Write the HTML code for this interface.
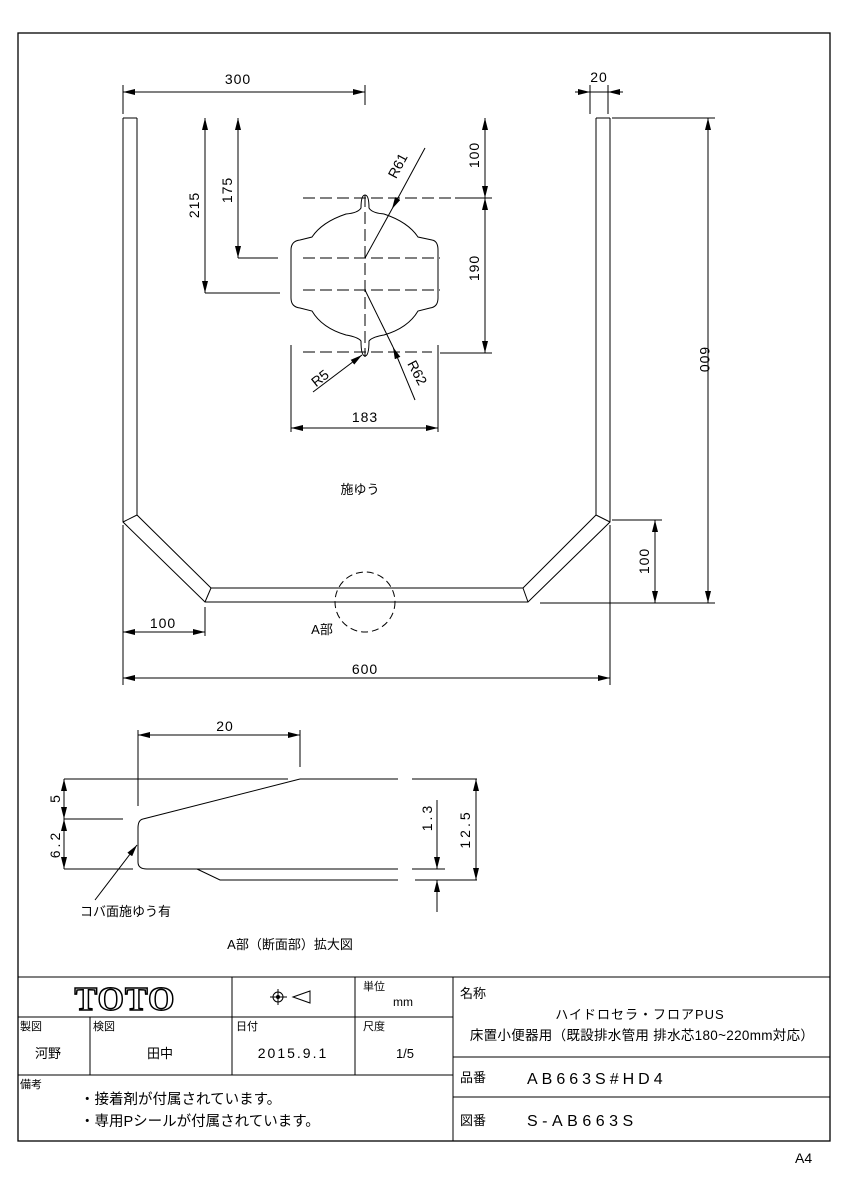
<!DOCTYPE html>
<html><head><meta charset="utf-8"><style>
html,body{margin:0;padding:0;background:#fff;}
svg{display:block;font-family:"Liberation Sans","Noto Sans CJK JP",sans-serif;}
</style></head><body>
<svg width="848" height="1200" viewBox="0 0 848 1200" xmlns="http://www.w3.org/2000/svg">
<defs>
<marker id="a" viewBox="0 0 12 6" refX="12" refY="3" markerWidth="12" markerHeight="6" orient="auto-start-reverse" markerUnits="userSpaceOnUse"><path d="M0,0 L12,3 L0,6z" fill="#000"/></marker>
</defs>
<g fill="none" stroke="#000" stroke-width="1">
<rect x="18" y="33" width="812" height="1108" stroke-width="1.3"/>
<path d="M123,118 V522 L205,602 H528 L610,522 V118"/>
<path d="M137,118 V515 L211,588 H523 L596,515 V118"/>
<path d="M123,118 H137 M596,118 H610 M123,522 L137,515 M205,602 L211,588 M528,602 L523,588 M610,522 L596,515"/>
<path d="M123,85 V114 M365,85 V105 M590,85 V114 M608,85 V114"/>
<line x1="123" y1="92" x2="365" y2="92" marker-start="url(#a)" marker-end="url(#a)"/>
<line x1="575" y1="92" x2="590" y2="92" marker-end="url(#a)"/>
<line x1="623" y1="92" x2="608" y2="92" marker-end="url(#a)"/>
<line x1="590" y1="92" x2="620" y2="92"/>
<path d="M612,118 H715 M540,603 H715 M612,520 H662"/>
<line x1="708" y1="118" x2="708" y2="603" marker-start="url(#a)" marker-end="url(#a)"/>
<line x1="655" y1="520" x2="655" y2="603" marker-start="url(#a)" marker-end="url(#a)"/>
<path d="M205,293 H280 M238,258 H278"/>
<line x1="205" y1="118" x2="205" y2="293" marker-start="url(#a)" marker-end="url(#a)"/>
<line x1="238" y1="118" x2="238" y2="258" marker-start="url(#a)" marker-end="url(#a)"/>
<path d="M455,198 H492 M440,353 H492"/>
<line x1="485" y1="118" x2="485" y2="198" marker-start="url(#a)" marker-end="url(#a)"/>
<line x1="485" y1="198" x2="485" y2="353" marker-start="url(#a)" marker-end="url(#a)"/>
<g stroke-dasharray="12,5">
<path d="M303,198 H455 M303,258 H440 M303,290 H440 M303,352 H432 M365,195 V357"/>
</g>
<path d="M361,208 Q361,195 365,195 Q369,195 369,208 Q372,213 384,214 Q408,222 418,237 L432,240 Q438,241 438,250 L438,298 Q438,307 430,308 L418,311 Q408,328 384,335 Q372,337 369,341 Q369,356 365,356 Q361,356 361,341 Q358,337 346,335 Q322,328 312,311 L300,308 Q291,307 291,298 L291,250 Q291,241 300,240 L312,237 Q322,222 346,214 Q358,213 361,208 Z"/>
<line x1="425" y1="148" x2="392" y2="209" marker-end="url(#a)"/>
<line x1="392" y1="209" x2="365" y2="258"/>
<line x1="365" y1="290" x2="393" y2="347"/>
<line x1="415" y1="400" x2="393" y2="347" marker-end="url(#a)"/>
<line x1="313" y1="392" x2="362" y2="355" marker-end="url(#a)"/>
<path d="M291,345 V432 M438,345 V432"/>
<line x1="291" y1="428" x2="438" y2="428" marker-start="url(#a)" marker-end="url(#a)"/>
<circle cx="365" cy="602" r="30" stroke-dasharray="7,4"/>
<path d="M205,607 V636 M123,525 V685 M610,525 V685"/>
<line x1="123" y1="632" x2="205" y2="632" marker-start="url(#a)" marker-end="url(#a)"/>
<line x1="123" y1="678" x2="610" y2="678" marker-start="url(#a)" marker-end="url(#a)"/>
<path d="M64,779 H288 M300,779 H398 M412,779 H477"/>
<path d="M143,819 L300,779"/>
<path d="M143,819 Q138,820 138,828 V862 Q138,869 147,869 H398 M412,869 H445"/>
<path d="M64,869 H133 M64,819 H123"/>
<path d="M197,869 L220,880 H398 M415,880 H477"/>
<path d="M138,730 V806 M300,730 V767"/>
<line x1="138" y1="735" x2="300" y2="735" marker-start="url(#a)" marker-end="url(#a)"/>
<line x1="64" y1="779" x2="64" y2="819" marker-start="url(#a)" marker-end="url(#a)"/>
<line x1="64" y1="819" x2="64" y2="869" marker-start="url(#a)" marker-end="url(#a)"/>
<line x1="476" y1="779" x2="476" y2="880" marker-start="url(#a)" marker-end="url(#a)"/>
<line x1="437" y1="800" x2="437" y2="869" marker-end="url(#a)"/>
<line x1="437" y1="912" x2="437" y2="880" marker-end="url(#a)"/>
<line x1="95" y1="900" x2="137" y2="845" marker-end="url(#a)"/>
<path d="M18,977 H830 M18,1017 H453 M18,1075 H453 M453,1057 H830 M453,1097 H830"/>
<path d="M232,977 V1075 M355,977 V1075 M453,977 V1141 M90,1017 V1075"/>
<circle cx="278" cy="997" r="5"/><circle cx="278" cy="997" r="1.5" fill="#000"/>
<path d="M270,997 H287 M278,989 V1005 M293,997 L310,991 V1003 Z"/>
</g>
<g font-size="14" fill="#000">
<text x="238" y="84" text-anchor="middle" letter-spacing="1">300</text>
<text x="599" y="82" text-anchor="middle" letter-spacing="1">20</text>
<text transform="translate(700,360) rotate(90)" text-anchor="middle" letter-spacing="1">600</text>
<text transform="translate(649,561) rotate(-90)" text-anchor="middle" letter-spacing="1">100</text>
<text transform="translate(199,205) rotate(-90)" text-anchor="middle" letter-spacing="1">215</text>
<text transform="translate(232,190) rotate(-90)" text-anchor="middle" letter-spacing="1">175</text>
<text transform="translate(479,155) rotate(-90)" text-anchor="middle" letter-spacing="1">100</text>
<text transform="translate(479,268) rotate(-90)" text-anchor="middle" letter-spacing="1">190</text>
<text transform="translate(402,168) rotate(-62)" text-anchor="middle">R61</text>
<text transform="translate(413,375) rotate(62)" text-anchor="middle">R62</text>
<text transform="translate(323,382) rotate(-38)" text-anchor="middle">R5</text>
<text x="365" y="422" text-anchor="middle" letter-spacing="1">183</text>
<text x="360" y="494" text-anchor="middle" font-size="13">施ゆう</text>
<text x="322" y="634" text-anchor="middle" font-size="13">A部</text>
<text x="163" y="628" text-anchor="middle" letter-spacing="1">100</text>
<text x="365" y="674" text-anchor="middle" letter-spacing="1">600</text>
<text x="225" y="731" text-anchor="middle" letter-spacing="1">20</text>
<text transform="translate(60,799) rotate(-90)" text-anchor="middle">5</text>
<text transform="translate(60,844) rotate(-90)" text-anchor="middle" letter-spacing="3">6.2</text>
<text transform="translate(432,817) rotate(-90)" text-anchor="middle" letter-spacing="3">1.3</text>
<text transform="translate(470,829) rotate(-90)" text-anchor="middle" letter-spacing="3">12.5</text>
<text x="80" y="916" font-size="13">コバ面施ゆう有</text>
<text x="290" y="949" text-anchor="middle" font-size="13">A部（断面部）拡大図</text>
<text x="125" y="1010" text-anchor="middle" font-family="Liberation Serif,serif" font-weight="bold" font-size="34" fill="#fff" stroke="#000" stroke-width="1.5" letter-spacing="1">TOTO</text>
<text x="363" y="990" font-size="11">単位</text>
<text x="393" y="1006" font-size="12">mm</text>
<text x="460" y="998" font-size="13">名称</text>
<text x="640" y="1019" text-anchor="middle" font-size="13" letter-spacing="1">ハイドロセラ・フロアPUS</text>
<text x="642" y="1040" text-anchor="middle" font-size="13.5" letter-spacing="0.3">床置小便器用（既設排水管用 排水芯180~220mm対応）</text>
<text x="20" y="1030" font-size="11">製図</text>
<text x="93" y="1030" font-size="11">検図</text>
<text x="236" y="1030" font-size="11">日付</text>
<text x="363" y="1030" font-size="11">尺度</text>
<text x="35" y="1058" font-size="13">河野</text>
<text x="160" y="1058" text-anchor="middle" font-size="13">田中</text>
<text x="293" y="1058" text-anchor="middle" font-size="14" letter-spacing="2">2015.9.1</text>
<text x="405" y="1058" text-anchor="middle" font-size="13">1/5</text>
<text x="20" y="1088" font-size="11">備考</text>
<text x="80" y="1104" font-size="14.5">・接着剤が付属されています。</text>
<text x="80" y="1126" font-size="14.5">・専用Pシールが付属されています。</text>
<text x="460" y="1082" font-size="13">品番</text>
<text x="527" y="1084" font-size="16" letter-spacing="4">AB663S#HD4</text>
<text x="460" y="1125" font-size="13">図番</text>
<text x="527" y="1126" font-size="16" letter-spacing="4.5">S-AB663S</text>
<text x="795" y="1163" font-size="14">A4</text>
</g>
</svg>
</body></html>
